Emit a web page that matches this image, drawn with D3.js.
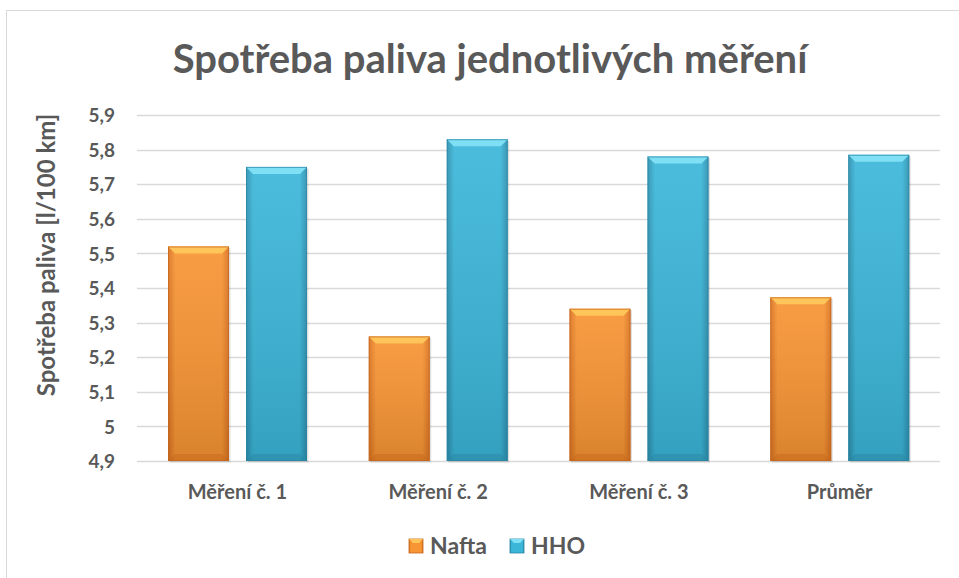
<!DOCTYPE html>
<html>
<head>
<meta charset="utf-8">
<script src="https://cdn.jsdelivr.net/npm/d3@7"></script>
<style>
  body { margin: 0; background: #fff; }
  svg text { font-family: Lato, "Open Sans", sans-serif; font-weight: bold; fill: #595959; }
</style>
</head>
<body>
<div id="chart"></div>
<script>
"use strict"

// data
let categories = ["Měření č. 1", "Měření č. 2", "Měření č. 3", "Průměr"];
let seriesNames = ["Nafta", "HHO"];
let naftaValues = [5.52, 5.26, 5.34, 5.373];
let hhoValues = [5.75, 5.83, 5.78, 5.785];
let yTicks = [4.9, 5, 5.1, 5.2, 5.3, 5.4, 5.5, 5.6, 5.7, 5.8, 5.9];

let colors = {
  Nafta: { mid: "#f79433", edge: "#d9711f", top: "#ffc45a", bottom: "#c6651b" },
  HHO: { mid: "#3bb6d9", edge: "#2b8fae", top: "#7fe0f5", bottom: "#2a84a2" }
};

let width = 959, height = 578;
let margin = { left: 137, right: 19, top: 115, bottom: 117 };

let svg = d3.select("#chart").append("svg")
  .attr("width", width)
  .attr("height", height);

// chart area border
svg.append("rect")
  .attr("x", 6.5).attr("y", 10.5)
  .attr("width", 970).attr("height", 600)
  .style("fill", "white")
  .style("stroke", "#d9d9d9")
  .style("stroke-width", 1);

let x0 = d3.scaleBand()
  .domain(categories)
  .range([margin.left, width - margin.right]);

let x1 = d3.scaleBand()
  .domain(seriesNames)
  .range([31, 170])
  .paddingInner(0.218);

let y = d3.scaleLinear()
  .domain([4.9, 5.9])
  .range([height - margin.bottom, margin.top]);

// gradients
let defs = svg.append("defs");
seriesNames.forEach(function(s) {
  let g = defs.append("linearGradient").attr("id", "grad" + s)
    .attr("x1", "0").attr("x2", "1").attr("y1", "0").attr("y2", "0");
  g.append("stop").attr("offset", "0%").attr("stop-color", colors[s].edge);
  g.append("stop").attr("offset", "12%").attr("stop-color", colors[s].mid);
  g.append("stop").attr("offset", "88%").attr("stop-color", colors[s].mid);
  g.append("stop").attr("offset", "100%").attr("stop-color", colors[s].edge);

  let v = defs.append("linearGradient").attr("id", "vgrad" + s)
    .attr("x1", "0").attr("x2", "0").attr("y1", "0").attr("y2", "1");
  v.append("stop").attr("offset", "0%").attr("stop-color", "#ffffff").attr("stop-opacity", 0.08);
  v.append("stop").attr("offset", "100%").attr("stop-color", "#000000").attr("stop-opacity", 0.12);
});

// gridlines
svg.append("g")
  .selectAll("line")
  .data(yTicks)
  .join("line")
  .attr("x1", margin.left)
  .attr("x2", width - margin.right)
  .attr("y1", d => Math.round(y(d)) + 0.5)
  .attr("y2", d => Math.round(y(d)) + 0.5)
  .style("stroke", "#d9d9d9")
  .style("stroke-width", 1.5);

// y axis labels
let fmt = d => String(+d.toFixed(1)).replace(".", ",");
let yAxis = d3.axisLeft(y).tickValues(yTicks).tickFormat(fmt).tickSize(0).tickPadding(0);
let yg = svg.append("g")
  .attr("transform", "translate(" + (margin.left - 22) + ",0)")
  .call(yAxis);
yg.select(".domain").remove();
yg.selectAll("text")
  .style("font-size", "19px")
  .attr("dy", "0.35em")
  .style("font-family", "Lato, sans-serif");

// x axis labels
let xAxis = d3.axisBottom(x0).tickSize(0).tickPadding(0);
let xg = svg.append("g")
  .attr("transform", "translate(0," + (height - margin.bottom + 31) + ")")
  .call(xAxis);
xg.select(".domain").remove();
xg.selectAll("text")
  .style("font-size", "20px")
  .attr("dy", "0.35em")
  .style("font-family", "Lato, sans-serif");

// bars
let rows = categories.map((c, i) => ({ cat: c, vals: [
  { s: "Nafta", v: naftaValues[i] },
  { s: "HHO", v: hhoValues[i] }
]}));

let base = y(4.9);
let groups = svg.append("g").selectAll("g")
  .data(rows)
  .join("g")
  .attr("transform", d => "translate(" + x0(d.cat) + ",0)");

let bars = groups.selectAll("g.bar")
  .data(d => d.vals)
  .join("g")
  .attr("class", "bar");

let bw = x1.bandwidth();
let bev = 7;

// soft shadow
bars.append("rect")
  .attr("x", d => x1(d.s) + 1.5)
  .attr("y", d => y(d.v) + 1.5)
  .attr("width", bw)
  .attr("height", d => base - y(d.v))
  .style("fill", "#000")
  .style("opacity", 0.12);

bars.append("rect")
  .attr("x", d => x1(d.s))
  .attr("y", d => y(d.v))
  .attr("width", bw)
  .attr("height", d => base - y(d.v))
  .style("fill", d => "url(#grad" + d.s + ")");

bars.append("rect")
  .attr("x", d => x1(d.s))
  .attr("y", d => y(d.v))
  .attr("width", bw)
  .attr("height", d => base - y(d.v))
  .style("fill", d => "url(#vgrad" + d.s + ")");

// top bevel
bars.append("polygon")
  .attr("points", function(d) {
    let x = x1(d.s), t = y(d.v);
    return [[x, t], [x + bw, t], [x + bw - bev, t + bev], [x + bev, t + bev]].join(" ");
  })
  .style("fill", d => colors[d.s].top);

// bottom bevel
bars.append("polygon")
  .attr("points", function(d) {
    let x = x1(d.s);
    return [[x, base], [x + bw, base], [x + bw - bev, base - bev], [x + bev, base - bev]].join(" ");
  })
  .style("fill", d => colors[d.s].bottom)
  .style("opacity", 0.45);

bars.append("rect")
  .attr("x", d => x1(d.s) + 0.5)
  .attr("y", d => y(d.v) + 0.5)
  .attr("width", bw - 1)
  .attr("height", d => base - y(d.v) - 1)
  .style("fill", "none")
  .style("stroke", d => colors[d.s].bottom)
  .style("stroke-width", 1)
  .style("opacity", 0.7);

// title
svg.append("text")
  .attr("x", 490)
  .attr("y", 73)
  .attr("text-anchor", "middle")
  .style("font-size", "40px")
  .text("Spotřeba paliva jednotlivých měření");

// y axis title
svg.append("text")
  .attr("transform", "translate(55,255) rotate(-90)")
  .attr("text-anchor", "middle")
  .style("font-size", "24px")
  .text("Spotřeba paliva [l/100 km]");

// legend
let legend = svg.append("g")
  .attr("transform", "translate(409,539)");
let legendItems = legend.selectAll("g")
  .data(seriesNames)
  .join("g")
  .attr("transform", (d, i) => "translate(" + (i * 101) + ",0)");
legendItems.append("rect")
  .attr("width", 14).attr("height", 14)
  .style("fill", d => "url(#grad" + d + ")")
  .style("stroke", d => colors[d].bottom)
  .style("stroke-width", 0.8);
legendItems.append("polygon")
  .attr("points", "0,0 14,0 10,4 4,4")
  .style("fill", d => colors[d].top);
legendItems.append("text")
  .attr("x", 21)
  .attr("y", 7)
  .attr("dy", "0.36em")
  .style("font-size", "23px")
  .text(d => d);
</script>
</body>
</html>
